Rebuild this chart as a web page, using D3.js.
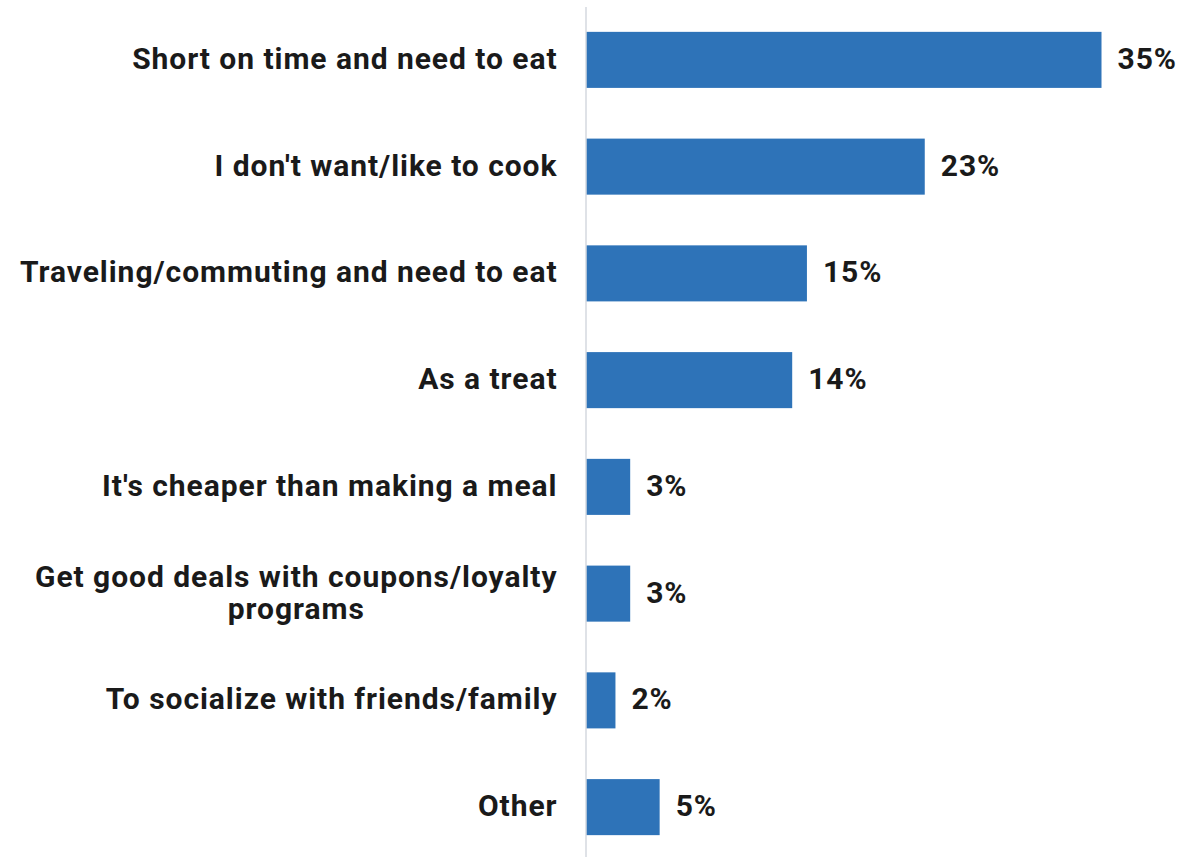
<!DOCTYPE html>
<html>
<head>
<meta charset="utf-8">
<script src="https://cdn.jsdelivr.net/npm/d3@7"></script>
<style>
  html, body { margin: 0; padding: 0; background: #fff; }
  svg { display: block; }
</style>
</head>
<body>
<svg id="chart" width="1181" height="857"></svg>
<script>
// Reasons for buying a meal out, share of respondents (%)
const categories = [
  ["Short on time and need to eat"],
  ["I don't want/like to cook"],
  ["Traveling/commuting and need to eat"],
  ["As a treat"],
  ["It's cheaper than making a meal"],
  ["Get good deals with coupons/loyalty", "programs"],
  ["To socialize with friends/family"],
  ["Other"]
];
const values = [35, 23, 15, 14, 3, 3, 2, 5];
const valueLabels = ["35%", "23%", "15%", "14%", "3%", "3%", "2%", "5%"];

const svg = d3.select("#chart");
const axisX = 586;
const font = "Roboto, 'Noto Sans', sans-serif";
const fontSize = 30;
const spacing = "0.95px";

const keys = categories.map((c, i) => i);

const y = d3.scaleBand()
  .domain(keys)
  .range([6.5, 860.5])
  .paddingInner(0.475)
  .paddingOuter(0.2375);

const x = d3.scaleLinear()
  .domain([0, 35])
  .range([axisX, 1101.5]);

// bars
svg.append("g")
  .selectAll("rect")
  .data(values)
  .join("rect")
  .attr("x", x(0))
  .attr("y", (d, i) => y(i))
  .attr("width", d => x(d) - x(0))
  .attr("height", y.bandwidth())
  .attr("fill", "#2e73b8");

// vertical category axis line
svg.append("line")
  .attr("x1", axisX).attr("x2", axisX)
  .attr("y1", 7).attr("y2", 857)
  .attr("stroke", "#d5d9df")
  .attr("stroke-width", 1.5);

// value labels
svg.append("g")
  .selectAll("text")
  .data(values)
  .join("text")
  .attr("x", d => x(d) + 16)
  .attr("y", (d, i) => y(i) + y.bandwidth() / 2)
  .attr("dy", "0.3em")
  .attr("font-family", font)
  .attr("font-weight", 700)
  .attr("font-size", fontSize)
  .attr("letter-spacing", spacing)
  .attr("fill", "#1a1a1a")
  .text((d, i) => valueLabels[i]);

// category labels, right aligned against the axis; wrapped lines are centred on each other
const labelRight = 557.5;
const lineH = 32;
const labG = svg.append("g")
  .attr("font-family", font)
  .attr("font-weight", 700)
  .attr("font-size", fontSize)
  .attr("letter-spacing", spacing)
  .attr("fill", "#1a1a1a");

categories.forEach((lines, i) => {
  const cy = y(i) + y.bandwidth() / 2;
  const g = labG.append("g");
  const texts = lines.map((ln, j) =>
    g.append("text")
      .attr("y", cy + (j - (lines.length - 1) / 2) * lineH)
      .attr("dy", "0.3em")
      .text(ln)
  );
  const bbs = texts.map(t => t.node().getBBox().width);
  const maxW = d3.max(bbs);
  const cx = labelRight - maxW / 2;
  texts.forEach(t => t.attr("x", cx).attr("text-anchor", "middle"));
});
</script>
</body>
</html>
